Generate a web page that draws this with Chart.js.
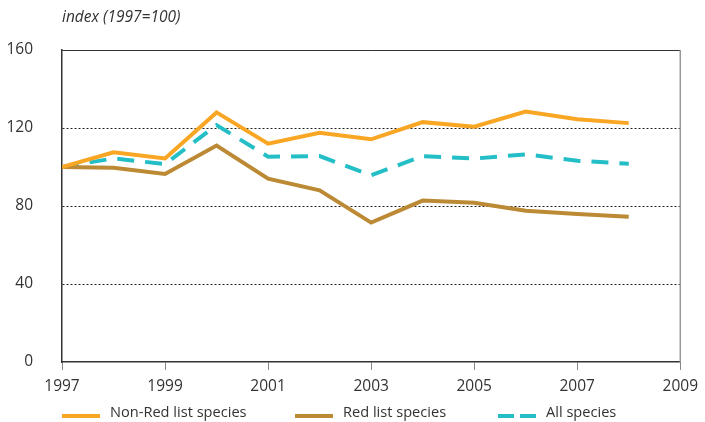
<!DOCTYPE html>
<html>
<head>
<meta charset="utf-8">
<script src="https://cdn.jsdelivr.net/npm/chart.js@4"></script>
<style>
  html, body { margin: 0; padding: 0; background: #fff; }
  #wrap { width: 705px; height: 422px; position: relative; }
</style>
</head>
<body>
<div id="wrap"><canvas id="chart"></canvas></div>
<script>
// index (1997=100)
const years = [1997, 1998, 1999, 2000, 2001, 2002, 2003, 2004, 2005, 2006, 2007, 2008]
const nonRedList = [100, 107.5, 104.4, 128, 112, 117.5, 114.2, 123, 120.7, 128.4, 124.5, 122.5]
const redList = [100, 99.6, 96.4, 111, 94, 88, 71.5, 82.8, 81.7, 77.6, 75.9, 74.5]
const allSpecies = [100, 104.4, 101.5, 121.5, 105.3, 105.6, 95.8, 105.6, 104.3, 106.5, 103.2, 101.7]
const yTicks = [0, 40, 80, 120, 160]
const xTicks = [1997, 1999, 2001, 2003, 2005, 2007, 2009]
const seriesLabels = ['Non-Red list species', 'Red list species', 'All species']
const titleText = 'index (1997=100)'

const FONT = '"Open Sans", "Noto Sans", sans-serif'
const toPoints = vals => years.map((y, i) => ({ x: y, y: vals[i] }))

// title, frame and legend
const decor = {
  id: 'decor',
  beforeDatasetsDraw(chart) {
    const { ctx, chartArea: a } = chart
    ctx.save()
    ctx.lineWidth = 1
    ctx.strokeStyle = '#333'
    ctx.beginPath()
    ctx.moveTo(a.left, a.top + 0.5)
    ctx.lineTo(a.right, a.top + 0.5)
    ctx.stroke()
    ctx.strokeStyle = '#999'
    ctx.lineWidth = 1.5
    ctx.beginPath()
    ctx.moveTo(a.right, a.top)
    ctx.lineTo(a.right, a.bottom)
    ctx.stroke()
    ctx.restore()
  },
  afterDraw(chart) {
    const { ctx, chartArea: a } = chart
    ctx.save()
    ctx.fillStyle = '#333'
    ctx.font = 'italic 15.5px ' + FONT
    ctx.textBaseline = 'middle'
    ctx.fillText(titleText, a.left, 18)

    const starts = [a.left, 295, 498]
    const ly = 416
    chart.data.datasets.forEach((ds, i) => {
      const x0 = starts[i]
      ctx.strokeStyle = ds.borderColor
      ctx.lineWidth = 4
      ctx.setLineDash(ds.borderDash ? [16, 6] : [])
      ctx.beginPath()
      ctx.moveTo(x0, ly)
      ctx.lineTo(x0 + 38, ly)
      ctx.stroke()
      ctx.setLineDash([])
      ctx.fillStyle = '#333'
      ctx.font = '14.6px ' + FONT
      ctx.fillText(ds.label, x0 + 48, ly - 3)
    })
    ctx.restore()
  },
}

new Chart(document.getElementById('chart'), {
  type: 'line',
  data: {
    datasets: [
      {
        label: seriesLabels[0],
        data: toPoints(nonRedList),
        borderColor: '#F8A623',
        borderWidth: 4,
      },
      {
        label: seriesLabels[1],
        data: toPoints(redList),
        borderColor: '#BC8A35',
        borderWidth: 4,
      },
      {
        label: seriesLabels[2],
        data: toPoints(allSpecies),
        borderColor: '#24BEC7',
        borderWidth: 4,
        borderDash: [17, 11],
      },
    ],
  },
  options: {
    responsive: true,
    maintainAspectRatio: false,
    animation: false,
    layout: { padding: { top: 50, right: 20, left: 0, bottom: 0 } },
    elements: {
      point: { radius: 0 },
      line: { tension: 0, borderJoinStyle: 'miter', borderCapStyle: 'butt' },
    },
    plugins: {
      legend: { display: false },
      tooltip: { enabled: false },
    },
    scales: {
      x: {
        type: 'linear',
        min: 1997,
        max: 2009,
        afterBuildTicks: s => { s.ticks = xTicks.map(v => ({ value: v })) },
        afterFit: s => { s.height = 60 },
        grid: { drawOnChartArea: false, drawTicks: true, tickLength: 8, tickColor: '#888' },
        border: { color: '#333', width: 1.5 },
        ticks: {
          color: '#333',
          padding: 7,
          font: { family: FONT, size: 15.5 },
          callback: v => String(v),
        },
      },
      y: {
        min: 0,
        max: 160,
        afterBuildTicks: s => { s.ticks = yTicks.map(v => ({ value: v })) },
        afterFit: s => { s.width = 62 },
        grid: {
          drawTicks: false,
          lineWidth: 1,
          color: c => ([40, 80, 120].includes(c.tick.value) ? '#222' : 'rgba(0,0,0,0)'),
        },
        border: { color: '#333', width: 1.5, dash: [2, 2] },
        ticks: {
          color: '#333',
          padding: 29,
          font: { family: FONT, size: 15.5 },
        },
      },
    },
  },
  plugins: [decor],
})
</script>
</body>
</html>
